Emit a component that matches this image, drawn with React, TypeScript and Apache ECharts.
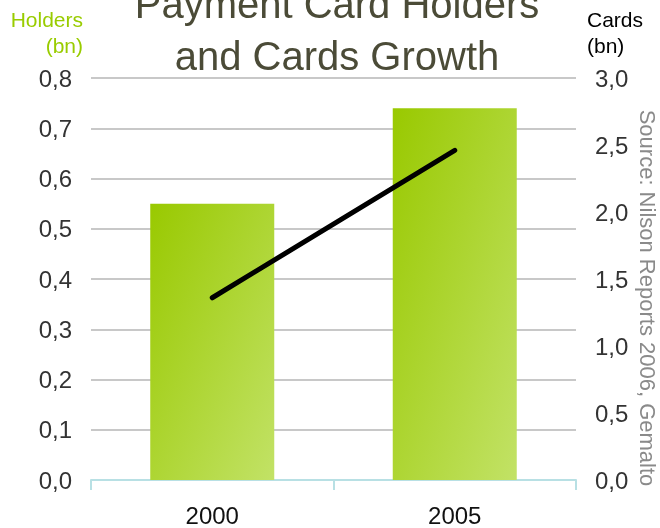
import React, { useEffect, useRef } from "react";
import * as echarts from "echarts";

const categories = ["2000", "2005"];
const holders = [0.55, 0.74];
const cards = [1.36, 2.46];

const FONT = "'Liberation Sans', Arial, sans-serif";

export default function App() {
  const ref = useRef<HTMLDivElement>(null);
  useEffect(() => {
    if (!ref.current) return;
    const chart = echarts.init(ref.current, null, { renderer: "svg" });
    const fmt = (v: number) => v.toFixed(1).replace(".", ",");
    const txt = (text: string, x: number, y: number, size: number, fill: string, align: string) => ({
      type: "text",
      x,
      y,
      style: {
        text,
        font: `${size}px ${FONT}`,
        fill,
        textAlign: align,
        textVerticalAlign: "middle",
      },
    });
    chart.setOption({
      animation: false,
      textStyle: { fontFamily: FONT },
      grid: { left: 91, right: 84, top: 78, bottom: 48, containLabel: false },
      graphic: [
        txt("Payment Card Holders", 337, 4, 40, "#4b4b37", "center"),
        txt("and Cards Growth", 337, 56, 40, "#4b4b37", "center"),
        txt("Holders", 83, 19, 21, "#99cc00", "right"),
        txt("(bn)", 83, 45, 21, "#99cc00", "right"),
        txt("Cards", 587, 19, 21, "#000000", "left"),
        txt("(bn)", 587, 45, 21, "#000000", "left"),
        {
          type: "text",
          x: 647,
          y: 298,
          rotation: -Math.PI / 2,
          style: {
            text: "Source: Nilson Reports 2006, Gemalto",
            font: `22px ${FONT}`,
            fill: "#8a8a8a",
            textAlign: "center",
            textVerticalAlign: "middle",
          },
        },
      ],
      xAxis: {
        type: "category",
        data: categories,
        axisLine: { show: true, lineStyle: { color: "#b8e0e4", width: 2 } },
        axisTick: { show: true, length: 10, lineStyle: { color: "#b8e0e4", width: 2 } },
        axisLabel: { color: "#111", fontSize: 24, margin: 23 },
      },
      yAxis: [
        {
          type: "value",
          min: 0,
          max: 0.8,
          interval: 0.1,
          axisLine: { show: false },
          axisTick: { show: false },
          axisLabel: { color: "#333", fontSize: 24, margin: 19, formatter: fmt },
          splitLine: { lineStyle: { color: "#c8c8c8", width: 2 } },
        },
        {
          type: "value",
          min: 0,
          max: 3,
          interval: 0.5,
          position: "right",
          axisLine: { show: false },
          axisTick: { show: false },
          axisLabel: { color: "#333", fontSize: 24, margin: 19, formatter: fmt },
          splitLine: { show: false },
        },
      ],
      series: [
        {
          type: "bar",
          data: holders,
          barWidth: 124,
          yAxisIndex: 0,
          itemStyle: {
            color: new echarts.graphic.LinearGradient(0, 0, 1, 1, [
              { offset: 0, color: "#99c900" },
              { offset: 1, color: "#c2e266" },
            ]),
          },
        },
        {
          type: "line",
          data: cards,
          yAxisIndex: 1,
          symbol: "none",
          lineStyle: { color: "#000", width: 5, cap: "round" },
        },
      ],
    });
    return () => chart.dispose();
  }, []);
  return (
    <div
      ref={ref}
      style={{ position: "fixed", left: 0, top: 0, width: 660, height: 528 }}
    />
  );
}
